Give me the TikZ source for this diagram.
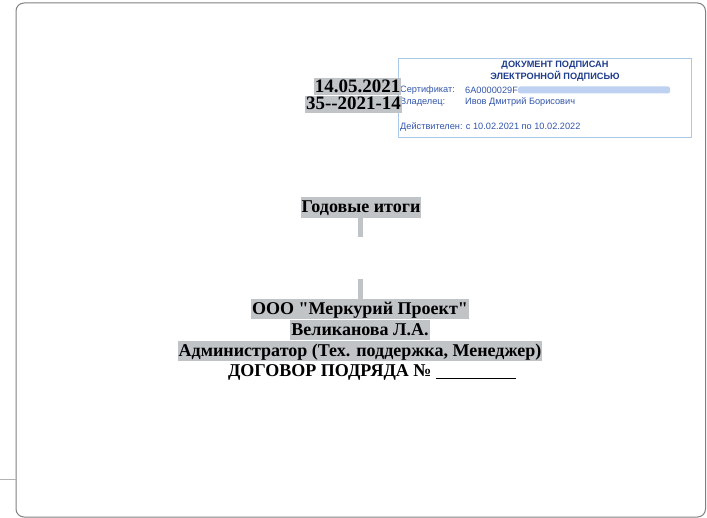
\documentclass[tikz,border=0pt]{standalone}
\usepackage{fontspec}
\setmainfont{Liberation Serif}[Ligatures=TeXOff]
\newfontfamily\stampfont{Liberation Sans}
\definecolor{hl}{RGB}{192,196,199}
\definecolor{framecol}{RGB}{128,128,128}
\definecolor{stampborder}{RGB}{170,200,232}
\definecolor{stampdark}{RGB}{30,60,140}
\definecolor{stamptext}{RGB}{50,85,170}
\definecolor{blurcol}{RGB}{175,198,238}
\tikzset{
  hlline/.style={fill=hl, inner xsep=1pt, inner ysep=0pt, text height=15.5pt, text depth=5pt, font=\fontsize{18}{20}\selectfont\bfseries},
  plainline/.style={inner xsep=1pt, inner ysep=0pt, text height=15.5pt, text depth=5pt, font=\fontsize{18}{20}\selectfont\bfseries},
  datel/.style={fill=hl, inner xsep=1pt, inner ysep=0pt, text height=14pt, text depth=3pt, font=\fontsize{19}{20}\selectfont\bfseries},
  stamphead/.style={inner sep=0pt, text=stampdark, font=\stampfont\fontsize{9.2}{10}\selectfont\bfseries},
  stampline/.style={inner sep=0pt, anchor=west, text=stamptext, font=\stampfont\fontsize{9.2}{10}\selectfont},
  bar/.style={draw=hl, line width=4.5pt},
}
\begin{document}
\begin{tikzpicture}[x=1pt,y=-1pt]
\useasboundingbox (0,0) rectangle (707,518);
% frame
\draw[framecol, line width=1pt, rounded corners=8pt] (16,3) rectangle (705.5,517);
\draw[framecol!60, line width=1pt] (0,479) -- (16,479);
% signature stamp
\draw[stampborder, line width=0.8pt] (398,58) rectangle (691,137);
\node[stamphead] (sh1) at (555,65) {ДОКУМЕНТ ПОДПИСАН};
\node[stamphead] (sh2) at (555,76) {ЭЛЕКТРОННОЙ ПОДПИСЬЮ};
\node[stampline] (certl) at (400,90) {Сертификат:};
\node[stampline] (certv) at (465,90) {6A0000029F};
\fill[blurcol, rounded corners=2pt, opacity=0.8] (certv.east) ++(0,-3.5) rectangle (670,93.5);
\node[stampline] (ownl) at (400,102) {Владелец:};
\node[stampline] (ownv) at (465,102) {Ивов Дмитрий Борисович};
\node[stampline] (valid) at (400,127) {Действителен: с 10.02.2021 по 10.02.2022};
% date block (drawn over the stamp, as in the reference)
\node[datel] (date) at (357.5,87) {14.05.2021};
\node[datel, anchor=north] (num) at (353.5,95.5) {35--2021-14};
% title
\node[hlline] (title) at (361,207.5) {Годовые итоги};
\coordinate (b1end) at (360.5,237);
\draw[bar] (title.south -| b1end) -- (b1end);
% company block
\node[hlline] (c1) at (360,309) {ООО "Меркурий Проект"};
\node[hlline, anchor=north] (c2) at (c1.south) {Великанова Л.А.};
\node[hlline, anchor=north] (c3) at (c2.south) {Администратор (Тех. поддержка, Менеджер)};
\node[plainline, anchor=north, xshift=12pt] (c4) at (c3.south) {ДОГОВОР ПОДРЯДА № \underline{\hspace{80pt}}};
\coordinate (b2start) at (360.5,279);
\draw[bar] (b2start) -- (c1.north -| b2start);
\end{tikzpicture}
\end{document}
